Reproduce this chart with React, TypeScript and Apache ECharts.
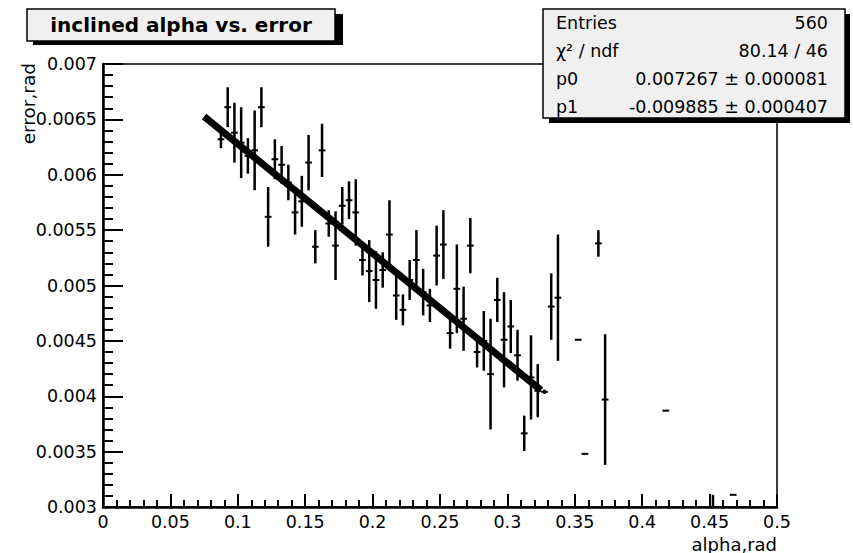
import React, { useEffect, useRef } from "react";
import * as echarts from "echarts";

// Bin centres (alpha, rad)
const alphaBins = [
  0.0875, 0.0925, 0.0975, 0.1025, 0.1075, 0.1125, 0.1175, 0.1225, 0.1275, 0.1325,
  0.1375, 0.1425, 0.1475, 0.1525, 0.1575, 0.1625, 0.1675, 0.1725, 0.1775, 0.1825,
  0.1875, 0.1925, 0.1975, 0.2025, 0.2075, 0.2125, 0.2175, 0.2225, 0.2275, 0.2325,
  0.2375, 0.2425, 0.2475, 0.2525, 0.2575, 0.2625, 0.2675, 0.2725, 0.2775, 0.2825,
  0.2875, 0.2925, 0.2975, 0.3025, 0.3075, 0.3125, 0.3175, 0.3225, 0.3275, 0.3325,
  0.3375, 0.3525, 0.3575, 0.3675, 0.3725, 0.4175, 0.4525, 0.4675,
];
// Mean error (rad) per bin
const errorValues = [
  0.00632, 0.00661, 0.00638, 0.00629, 0.00617, 0.00622, 0.00661, 0.00562, 0.00614, 0.00609,
  0.00593, 0.00566, 0.00576, 0.00611, 0.00535, 0.00622, 0.00556, 0.00536, 0.00572, 0.00577,
  0.00566, 0.00523, 0.00513, 0.00505, 0.00514, 0.00546, 0.00491, 0.00478, 0.00505, 0.00523,
  0.00494, 0.00482, 0.00527, 0.00537, 0.00457, 0.00497, 0.0047, 0.00536, 0.0044, 0.0045,
  0.0042, 0.00487, 0.00451, 0.00463, 0.00437, 0.003665, 0.00417, 0.00405, 0.00404, 0.00481,
  0.00489, 0.00451, 0.00348, 0.00538, 0.00397, 0.00387, 0.003, 0.00311,
];
// Uncertainty of each bin
const errorUncert = [
  0.00008, 0.00018, 0.00027, 0.00032, 0.00016, 0.00036, 0.00018, 0.00027, 0.00018, 0.00017,
  0.00016, 0.0002, 0.00023, 0.00025, 0.00015, 0.00024, 0.00012, 0.00031, 0.00017, 0.00017,
  0.0003, 0.00014, 0.00028, 0.00026, 0.00016, 0.00031, 0.00022, 0.00014, 0.00018, 0.00027,
  0.00021, 0.00015, 0.00027, 0.00031, 0.00014, 0.0004, 0.00029, 0.00025, 0.00014, 0.00027,
  0.0005, 0.0002, 0.00043, 0.00024, 0.00023, 0.00016, 0.00038, 0.00024, 0.00002, 0.0003,
  0.00057, 0, 0, 0.00012, 0.00059, 0, 0.00011, 0,
];
const binHalfWidth = 0.0025;

// Linear fit end points
const fitAlpha = [0.075, 0.325];
const fitError = [0.006526, 0.004054];

const xTicks = ["0", "0.05", "0.1", "0.15", "0.2", "0.25", "0.3", "0.35", "0.4", "0.45", "0.5"];

const statLabels = ["Entries", "χ² / ndf", "p0", "p1"];
const statValues = ["560", "80.14 / 46", "0.007267 ± 0.000081", "-0.009885 ± 0.000407"];

const FONT = "DejaVu Sans";

export default function App() {
  const ref = useRef<HTMLDivElement>(null);
  useEffect(() => {
    if (!ref.current) return;
    const chart = echarts.init(ref.current, undefined, { renderer: "svg" });
    const pts = alphaBins.map((a, i) => [a, errorValues[i], errorUncert[i]]);
    const rowY = [23, 51, 79, 107];
    const graphics: any[] = [
      // title box
      { type: "rect", z: 100, shape: { x: 33, y: 14, width: 310, height: 31 }, style: { fill: "#000" } },
      { type: "rect", z: 101, shape: { x: 27, y: 9, width: 308, height: 32 }, style: { fill: "#f0f0f0", stroke: "#000", lineWidth: 1.5 } },
      { type: "text", z: 102, x: 181, y: 25, style: { text: "inclined alpha vs. error", font: `bold 20px '${FONT}'`, fill: "#000", align: "center", verticalAlign: "middle" } },
      // stats box
      { type: "rect", z: 100, shape: { x: 549, y: 14, width: 301, height: 109 }, style: { fill: "#000" } },
      { type: "rect", z: 101, shape: { x: 543, y: 9, width: 302, height: 109 }, style: { fill: "#f0f0f0", stroke: "#000", lineWidth: 1.5 } },
      // axis titles
      { type: "text", z: 102, x: 777, y: 544, style: { text: "alpha,rad", font: `18px '${FONT}'`, fill: "#000", align: "right", verticalAlign: "middle" } },
      { type: "text", z: 102, x: 28, y: 63, rotation: Math.PI / 2, style: { text: "error,rad", font: `18.5px '${FONT}'`, fill: "#000", align: "right", verticalAlign: "middle" } },
    ];
    statLabels.forEach((s, i) => {
      graphics.push({ type: "text", z: 102, x: 556, y: rowY[i], style: { text: s, font: `17.5px '${FONT}'`, fill: "#000", align: "left", verticalAlign: "middle" } });
      graphics.push({ type: "text", z: 102, x: 828, y: rowY[i], style: { text: statValues[i], font: `17.5px '${FONT}'`, fill: "#000", align: "right", verticalAlign: "middle" } });
    });

    chart.setOption({
      animation: false,
      backgroundColor: "#fff",
      grid: { left: 103, right: 76, top: 64, bottom: 46, show: true, borderColor: "#000", borderWidth: 1.5, backgroundColor: "transparent" },
      xAxis: {
        type: "value", min: 0, max: 0.5, interval: 0.05,
        axisLine: { show: true, onZero: false, lineStyle: { color: "#000", width: 2.5 } },
        axisTick: { show: true, inside: true, length: 13, lineStyle: { color: "#000", width: 2 } },
        minorTick: { show: true, splitNumber: 5, length: 7, lineStyle: { color: "#000", width: 2 } },
        splitLine: { show: false },
        axisLabel: { color: "#000", fontFamily: FONT, fontSize: 17.5, margin: 6, formatter: (v: number) => xTicks[Math.round(v / 0.05)] ?? "" },
      },
      yAxis: {
        type: "value", min: 0.003, max: 0.007, interval: 0.0005,
        axisLine: { show: true, onZero: false, lineStyle: { color: "#000", width: 2.5 } },
        axisTick: { show: true, inside: true, length: 20, lineStyle: { color: "#000", width: 2 } },
        minorTick: { show: true, splitNumber: 5, length: 10, lineStyle: { color: "#000", width: 2 } },
        splitLine: { show: false },
        axisLabel: { color: "#000", fontFamily: FONT, fontSize: 17.5, margin: 6, formatter: (v: number) => String(+v.toFixed(4)) },
      },
      series: [
        {
          type: "custom",
          data: pts,
          encode: { x: 0, y: 1 },
          z: 2,
          renderItem: (params: any, api: any) => {
            const x = api.value(0), y = api.value(1), e = api.value(2);
            const cs = params.coordSys;
            const c = api.coord([x, y]);
            const t = api.coord([x, y + e]);
            const b = api.coord([x, y - e]);
            const l = api.coord([x - binHalfWidth, y]);
            const r = api.coord([x + binHalfWidth, y]);
            const yTop = Math.max(t[1], cs.y);
            const yBot = Math.min(b[1], cs.y + cs.height);
            const children: any[] = [];
            const st = { stroke: "#000", lineWidth: 2.5 };
            if (e > 0 && yBot > yTop) {
              children.push({ type: "line", shape: { x1: c[0], y1: yTop, x2: c[0], y2: yBot }, style: st });
            }
            if (c[1] >= cs.y && c[1] <= cs.y + cs.height) {
              children.push({ type: "line", shape: { x1: l[0], y1: c[1], x2: r[0], y2: c[1] }, style: { stroke: "#000", lineWidth: 2 } });
            }
            return { type: "group", children };
          },
        },
        {
          type: "line",
          data: fitAlpha.map((a, i) => [a, fitError[i]]),
          symbol: "none",
          z: 3,
          lineStyle: { color: "#000", width: 7 },
        },
      ],
      graphic: graphics,
    });
    return () => chart.dispose();
  }, []);
  return <div ref={ref} style={{ position: "fixed", left: 0, top: 0, width: 853, height: 553 }} />;
}
